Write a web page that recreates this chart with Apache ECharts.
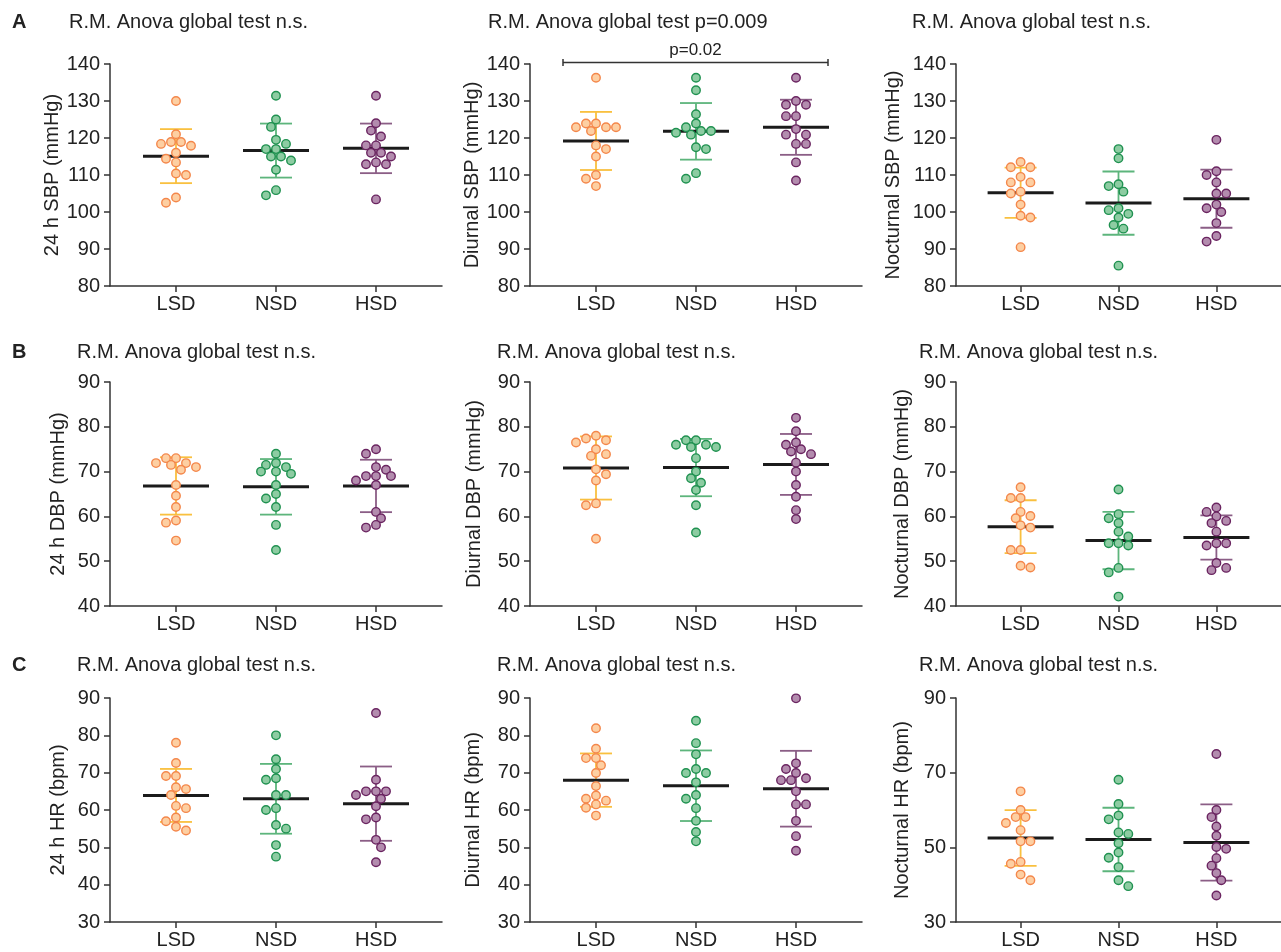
<!doctype html>
<html>
<head>
<meta charset="utf-8">
<title>ABPM by sodium diet</title>
<script src="https://cdn.jsdelivr.net/npm/echarts@6/dist/echarts.min.js"></script>
<style>
  html, body { margin: 0; background: #fff; }
  #chart { width: 1281px; height: 952px; }
</style>
</head>
<body>
<div id="chart"></div>
<script>
var groups = ['LSD', 'NSD', 'HSD'];

// row A - systolic BP (mmHg)
var sbp24 = [
  [130, 121, 118.9, 118.9, 118.4, 117.9, 116, 114.4, 113.4, 110.4, 110, 103.9, 102.5],
  [131.4, 125, 123, 119.5, 118.4, 117, 117, 115, 115, 113.9, 111.4, 105.9, 104.5],
  [131.4, 124, 122, 120.4, 118, 118, 116, 116, 115, 113.4, 112.9, 112.9, 103.4]
];
var sbp24Mean = [115.1, 116.6, 117.2];
var sbp24Sd = [7.3, 7.3, 6.7];

var sbpDay = [
  [136.3, 123.9, 123.9, 122.9, 122.9, 122.9, 121.9, 118, 117, 115, 110, 109, 107],
  [136.3, 132.9, 126.4, 123.9, 122.9, 121.9, 121.9, 121.4, 120.9, 117.5, 117, 110.5, 109],
  [136.3, 130, 129, 129, 125.9, 125.9, 122.4, 120.9, 120.9, 118.4, 118.4, 113.4, 108.5]
];
var sbpDayMean = [119.2, 121.8, 122.9];
var sbpDaySd = [7.85, 7.65, 7.45];

var sbpNight = [
  [113.5, 112.1, 112.1, 109.5, 108, 108, 105.5, 105, 102, 99, 98.5, 90.5],
  [117, 114.5, 107.5, 107, 105.5, 101, 100.5, 99.5, 98.5, 96.5, 95.5, 85.5],
  [119.5, 111, 110, 108, 105, 105, 102, 101, 100, 97, 93.5, 92]
];
var sbpNightMean = [105.2, 102.4, 103.6];
var sbpNightSd = [6.8, 8.55, 7.85];

// row B - diastolic BP (mmHg)
var dbp24 = [
  [73, 73, 71.9, 71.9, 71.5, 71, 70.4, 67, 64.6, 62.1, 59.1, 58.6, 54.6],
  [74, 71.9, 71.5, 71, 70, 70, 69.5, 67, 65, 64, 62.1, 58.1, 52.5],
  [75, 74, 71, 70.4, 69, 69, 69, 68, 67, 61, 59.6, 58.1, 57.5]
];
var dbp24Mean = [66.8, 66.6, 66.8];
var dbp24Sd = [6.4, 6.2, 5.85];

var dbpDay = [
  [78, 77.4, 77, 76.5, 75, 73.9, 73.5, 70.5, 69.4, 68, 62.9, 62.5, 55],
  [77, 77, 76, 76, 75.5, 75.5, 73, 70, 68.5, 67.5, 65.9, 62.5, 56.4],
  [82, 79, 76.5, 76, 75, 74.5, 73.9, 72, 70, 67, 64.4, 61.4, 59.4]
];
var dbpDayMean = [70.8, 70.9, 71.6];
var dbpDaySd = [7.05, 6.4, 6.8];

var dbpNight = [
  [66.5, 64.1, 64.1, 61, 60.1, 59.6, 58, 57.5, 52.5, 52.5, 49, 48.6],
  [66, 60.5, 59.6, 58.5, 56.6, 55.5, 54, 54, 53.5, 48.5, 47.5, 42.1],
  [62, 61, 60, 59, 58.5, 56.6, 54, 54, 53.5, 49.6, 48.5, 48]
];
var dbpNightMean = [57.7, 54.6, 55.3];
var dbpNightSd = [5.9, 6.4, 4.95];

// row C - heart rate (bpm)
var hr24 = [
  [78, 72.6, 69.1, 69.1, 66.1, 65.6, 64, 61.1, 60.5, 58, 57, 55.5, 54.5],
  [80, 73.6, 71, 68.5, 68.1, 64, 64, 60.5, 60, 56, 55, 50.6, 47.5],
  [86, 68.1, 65, 65, 65, 64, 63, 61, 58, 57.5, 52, 50, 46]
];
var hr24Mean = [63.9, 63.0, 61.7];
var hr24Sd = [7.1, 9.35, 9.95];

var hrDay = [
  [81.9, 76.4, 73.9, 73.9, 72, 69.9, 66.4, 63.9, 63, 62.5, 61.5, 60.6, 58.5],
  [83.9, 77.9, 74.9, 71, 69.9, 69.9, 67.4, 64, 63, 60.5, 57.1, 54.1, 51.6],
  [89.9, 72.5, 71, 69.9, 68.5, 68, 68, 65, 61.5, 61.5, 57.1, 53, 49.1]
];
var hrDayMean = [68.0, 66.5, 65.7];
var hrDaySd = [7.15, 9.45, 10.15];

var hrNight = [
  [65, 60, 58.1, 58.1, 56.5, 54.6, 51.6, 51.6, 46.1, 45.6, 42.7, 41.2],
  [68.1, 61.6, 58.5, 57.5, 54, 53.6, 51.1, 48.6, 47.2, 44.7, 41.2, 39.6],
  [75, 60, 58.1, 55.6, 53.1, 50.1, 49.6, 47.1, 45.1, 43.1, 41.2, 37.1]
];
var hrNightMean = [52.5, 52.1, 51.3];
var hrNightSd = [7.45, 8.5, 10.2];

var notes = [
  'R.M. Anova global test n.s.', 'R.M. Anova global test p=0.009', 'R.M. Anova global test n.s.',
  'R.M. Anova global test n.s.', 'R.M. Anova global test n.s.', 'R.M. Anova global test n.s.',
  'R.M. Anova global test n.s.', 'R.M. Anova global test n.s.', 'R.M. Anova global test n.s.'
];
var rowLetters = ['A', 'B', 'C'];
var pairText = 'p=0.02';   // LSD vs HSD, diurnal SBP
var pairY = 140.4;

var panels = [
  { values: sbp24, mean: sbp24Mean, sd: sbp24Sd, name: '24 h SBP (mmHg)', min: 80, max: 140, step: 10 },
  { values: sbpDay, mean: sbpDayMean, sd: sbpDaySd, name: 'Diurnal SBP (mmHg)', min: 80, max: 140, step: 10 },
  { values: sbpNight, mean: sbpNightMean, sd: sbpNightSd, name: 'Nocturnal SBP (mmHg)', min: 80, max: 140, step: 10 },
  { values: dbp24, mean: dbp24Mean, sd: dbp24Sd, name: '24 h DBP (mmHg)', min: 40, max: 90, step: 10 },
  { values: dbpDay, mean: dbpDayMean, sd: dbpDaySd, name: 'Diurnal DBP (mmHg)', min: 40, max: 90, step: 10 },
  { values: dbpNight, mean: dbpNightMean, sd: dbpNightSd, name: 'Nocturnal DBP (mmHg)', min: 40, max: 90, step: 10 },
  { values: hr24, mean: hr24Mean, sd: hr24Sd, name: '24 h HR (bpm)', min: 30, max: 90, step: 10 },
  { values: hrDay, mean: hrDayMean, sd: hrDaySd, name: 'Diurnal HR (bpm)', min: 30, max: 90, step: 10 },
  { values: hrNight, mean: hrNightMean, sd: hrNightSd, name: 'Nocturnal HR (bpm)', min: 30, max: 90, step: 20 }
];

// layout
var colLeft = [110, 530, 956];
var rowTop = [64, 382, 698];
var rowHeight = [222, 224, 224];
var gridWidth = 332;
var xMin = -0.66, xMax = 2.66;
var nameGaps = [48, 47, 53, 42, 46, 44, 42, 47, 44];
var noteLeft = [69, 488, 912, 77, 497, 919, 77, 497, 919];
var noteTop = [12, 342, 655];

var FONT = '"Liberation Sans", Arial, Helvetica, sans-serif';
var dotFill = ['#fdcfa2', '#8dcca2', '#b38cae'];
var dotLine = ['#f4874b', '#1f9150', '#6a2460'];
var barColor = ['#f9c03f', '#5db57c', '#8b5e86'];
var axisColor = '#333';

// greedy beeswarm: from the top value down, put each dot at the nearest
// 5 px slot (alternating sides) where it does not hit a dot already placed
var STEP_PX = 5, HIT_PX = 8;
function swarm(vals, gi, pxPerY, pxPerX) {
  var sorted = vals.slice().sort(function (a, b) { return b - a; });
  var placed = [], side = -1;
  function free(x, y) {
    for (var i = 0; i < placed.length; i++) {
      var dx = placed[i][0] - x, dy = placed[i][1] - y;
      if (dx * dx + dy * dy < HIT_PX * HIT_PX) return false;
    }
    return true;
  }
  return sorted.map(function (v) {
    var y = v * pxPerY, x = 0;
    for (var k = 0; k < 30; k++) {
      if (k === 0) { if (free(0, y)) { x = 0; break; } continue; }
      if (free(side * k * STEP_PX, y)) { x = side * k * STEP_PX; side = -side; break; }
      if (free(-side * k * STEP_PX, y)) { x = -side * k * STEP_PX; break; }
    }
    placed.push([x, y]);
    return [gi + x / pxPerX, v];
  });
}

var grids = [], xAxes = [], yAxes = [], series = [], titles = [];

panels.forEach(function (p, i) {
  var r = Math.floor(i / 3), c = i % 3;
  grids.push({ left: colLeft[c], top: rowTop[r], width: gridWidth, height: rowHeight[r] });
  xAxes.push({
    gridIndex: i, type: 'value', min: xMin, max: xMax,
    axisLine: { show: true, onZero: false, lineStyle: { color: axisColor, width: 1.5 } },
    axisTick: { show: true, customValues: [0, 1, 2], length: 6, lineStyle: { color: axisColor, width: 1.5 } },
    axisLabel: {
      customValues: [0, 1, 2], margin: 8, fontSize: 20, color: '#222', fontFamily: FONT,
      formatter: function (v) { return groups[Math.round(v)]; }
    },
    splitLine: { show: false }
  });
  yAxes.push({
    gridIndex: i, type: 'value', min: p.min, max: p.max, interval: p.step,
    name: p.name, nameLocation: 'middle', nameGap: nameGaps[i],
    nameTextStyle: { fontSize: 20, color: '#222', fontFamily: FONT },
    axisLine: { show: true, onZero: false, lineStyle: { color: axisColor, width: 1.5 } },
    axisTick: { show: true, length: 6, lineStyle: { color: axisColor, width: 1.5 } },
    axisLabel: { margin: 10, fontSize: 20, color: '#222', fontFamily: FONT },
    splitLine: { show: false }
  });
  titles.push({
    text: notes[i], left: noteLeft[i], top: noteTop[r], padding: 0,
    textStyle: { fontSize: 20, fontWeight: 'normal', color: '#222', fontFamily: FONT }
  });

  var pxPerY = rowHeight[r] / (p.max - p.min);
  var pxPerX = gridWidth / (xMax - xMin);

  // SD error bars
  series.push({
    type: 'custom', xAxisIndex: i, yAxisIndex: i, z: 2, silent: true,
    data: groups.map(function (g, gi) { return [gi, p.mean[gi], p.sd[gi]]; }),
    encode: { x: 0, y: 1 },
    renderItem: function (params, api) {
      var x = api.value(0), m = api.value(1), s = api.value(2);
      var top = api.coord([x, m + s]), bot = api.coord([x, m - s]);
      var col = barColor[params.dataIndex], hw = 16;
      var st = { stroke: col, lineWidth: 1.8 };
      return {
        type: 'group', children: [
          { type: 'line', shape: { x1: top[0], y1: top[1], x2: bot[0], y2: bot[1] }, style: st },
          { type: 'line', shape: { x1: top[0] - hw, y1: top[1], x2: top[0] + hw, y2: top[1] }, style: st },
          { type: 'line', shape: { x1: bot[0] - hw, y1: bot[1], x2: bot[0] + hw, y2: bot[1] }, style: st }
        ]
      };
    }
  });
  // mean lines
  series.push({
    type: 'custom', xAxisIndex: i, yAxisIndex: i, z: 3, silent: true,
    data: groups.map(function (g, gi) { return [gi, p.mean[gi]]; }),
    encode: { x: 0, y: 1 },
    renderItem: function (params, api) {
      var pt = api.coord([api.value(0), api.value(1)]);
      return {
        type: 'line', shape: { x1: pt[0] - 33, y1: pt[1], x2: pt[0] + 33, y2: pt[1] },
        style: { stroke: '#1b1b1b', lineWidth: 3 }
      };
    }
  });
  // individual subjects
  groups.forEach(function (g, gi) {
    series.push({
      type: 'scatter', name: g, xAxisIndex: i, yAxisIndex: i, z: 5, silent: true,
      symbol: 'circle', symbolSize: 8.5,
      itemStyle: { color: dotFill[gi], borderColor: dotLine[gi], borderWidth: 1.4, opacity: 1 },
      data: swarm(p.values[gi], gi, pxPerY, pxPerX)
    });
  });
});

rowLetters.forEach(function (t, r) {
  titles.push({
    text: t, left: 12, top: noteTop[r], padding: 0,
    textStyle: { fontSize: 20, fontWeight: 'bold', color: '#222', fontFamily: FONT }
  });
});

// post-hoc comparison bracket, diurnal SBP LSD vs HSD
series.push({
  type: 'custom', xAxisIndex: 1, yAxisIndex: 1, z: 6, silent: true, clip: false,
  data: [[0, 2, pairY]],
  encode: { x: 0, y: 2 },
  renderItem: function (params, api) {
    var a = api.coord([api.value(0), api.value(2)]);
    var b = api.coord([api.value(1), api.value(2)]);
    var x1 = a[0] - 33, x2 = b[0] + 32, y = a[1];
    var st = { stroke: '#333', lineWidth: 1.5 };
    return {
      type: 'group', children: [
        { type: 'line', shape: { x1: x1, y1: y, x2: x2, y2: y }, style: st },
        { type: 'line', shape: { x1: x1, y1: y - 3.5, x2: x1, y2: y + 3.5 }, style: st },
        { type: 'line', shape: { x1: x2, y1: y - 3.5, x2: x2, y2: y + 3.5 }, style: st },
        { type: 'text', style: { text: pairText, x: (x1 + x2) / 2, y: y - 4, align: 'center', verticalAlign: 'bottom', fontSize: 17, fontFamily: FONT, fill: '#222' } }
      ]
    };
  }
});

var chart = echarts.init(document.getElementById('chart'));
chart.setOption({
  animation: false,
  backgroundColor: '#fff',
  title: titles,
  grid: grids,
  xAxis: xAxes,
  yAxis: yAxes,
  series: series
});
</script>
</body>
</html>
